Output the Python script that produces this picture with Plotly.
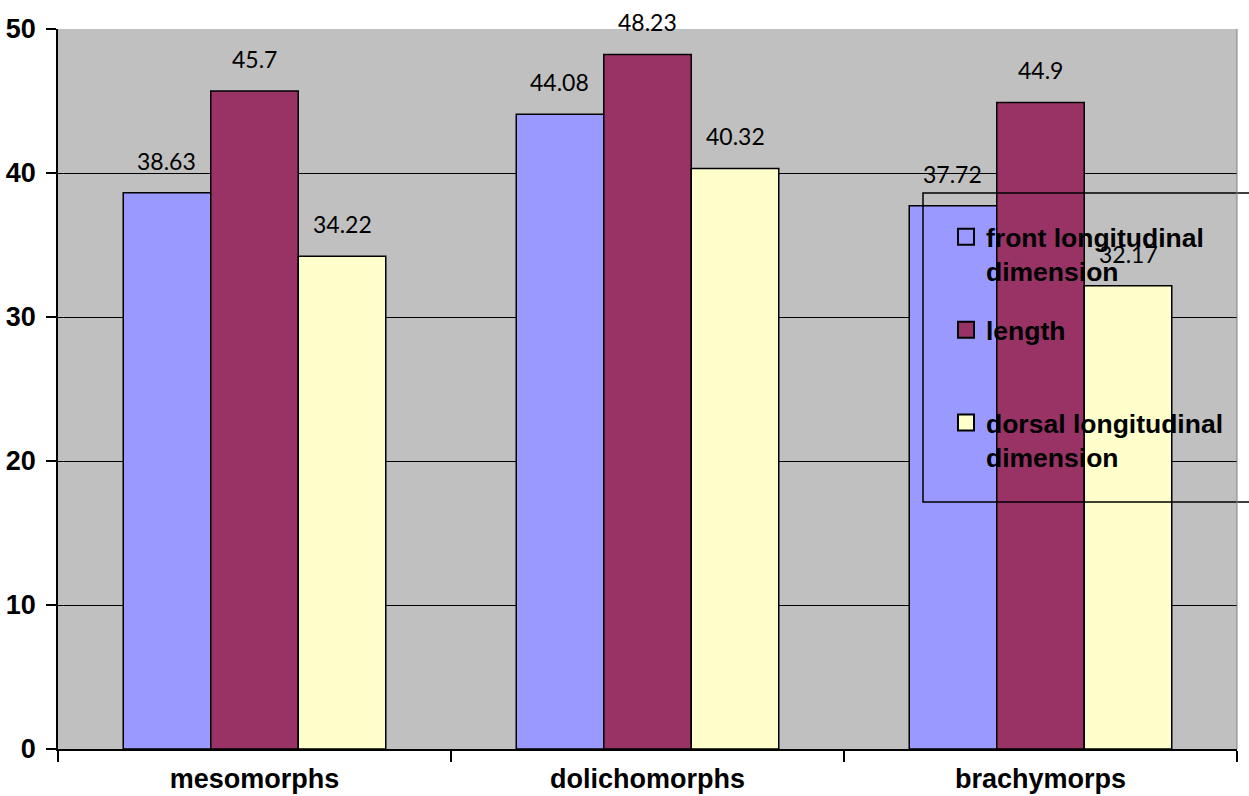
import plotly.graph_objects as go

categories = ["mesomorphs", "dolichomorphs", "brachymorps"]
series_names = ["front longitudinal<br>dimension", "length<br> ", "dorsal longitudinal<br>dimension"]
front_vals = [38.63, 44.08, 37.72]
length_vals = [45.7, 48.23, 44.9]
dorsal_vals = [34.22, 40.32, 32.17]
colors = ["#9999ff", "#993366", "#ffffcc"]
y_ticks = [0, 10, 20, 30, 40, 50]

series = [front_vals, length_vals, dorsal_vals]

W, H = 1249, 796
ML, MR, MT, MB = 58, 12, 29, 47
BARGAP = 0.332
plot_w = W - ML - MR
plot_h = H - MT - MB
bar_px = plot_w / len(categories) * (1 - BARGAP) / len(series)

fig = go.Figure()
for name, vals, col in zip(series_names, series, colors):
    fig.add_trace(go.Bar(
        x=categories, y=vals, name=name,
        marker=dict(color=col, line=dict(color="black", width=1.5)),
        showlegend=False,
    ))
    # legend proxy
    fig.add_trace(go.Scatter(
        x=[None], y=[None], mode="markers", name=name,
        marker=dict(symbol="square", size=16, color=col,
                    line=dict(color="black", width=2)),
        legendgroup=name,
    ))

annotations = []
for j, vals in enumerate(series):
    for cat, v in zip(categories, vals):
        annotations.append(dict(
            x=cat, y=v, xref="x", yref="y", text=f"{v:g}",
            showarrow=False, xshift=(j - 1) * bar_px, yshift=32,
            yanchor="middle",
            font=dict(family="Lato", size=23, color="black"),
        ))

fig.update_layout(
    width=W, height=H,
    margin=dict(l=ML, r=MR, t=MT, b=MB, autoexpand=False),
    paper_bgcolor="white",
    plot_bgcolor="#c0c0c0",
    barmode="group", bargap=BARGAP, bargroupgap=0,
    annotations=annotations,
    legend=dict(
        x=(946 - ML) / plot_w, y=(749 - 213) / plot_h, xanchor="left", yanchor="top",
        bgcolor="rgba(0,0,0,0)", borderwidth=0,
        font=dict(family="Liberation Sans", size=26.5, color="black", weight="bold"),
        valign="top", tracegroupgap=21, traceorder="grouped",
        itemsizing="trace",
    ),
    shapes=[
        dict(type="rect", xref="paper", yref="paper",
             x0=(923 - ML) / plot_w, x1=1.2, y0=(749 - 502) / plot_h, y1=(749 - 193) / plot_h,
             line=dict(color="black", width=1.5), fillcolor="rgba(0,0,0,0)", layer="above"),
        dict(type="line", xref="paper", yref="paper", x0=1, x1=1, y0=0, y1=1,
             line=dict(color="#808080", width=1), layer="above"),
    ],
    font=dict(family="Liberation Sans", color="black"),
)
fig.update_xaxes(
    type="category", tickson="boundaries", ticks="outside", ticklen=11,
    tickcolor="black", tickwidth=1.5, showline=True, linecolor="black", linewidth=1.5,
    showgrid=False, automargin=False,
    tickfont=dict(family="Liberation Sans", size=27, color="black", weight="bold"),
    ticklabelstandoff=5,
)
fig.update_yaxes(
    range=[0, 50], tickvals=y_ticks, ticks="outside", ticklen=10,
    tickcolor="black", tickwidth=1.5, showline=True, linecolor="black", linewidth=1.5,
    showgrid=True, gridcolor="black", gridwidth=1, zeroline=False, automargin=False,
    tickfont=dict(family="Liberation Sans", size=27, color="black", weight="bold"),
    ticklabelstandoff=5,
)

fig.write_html(
    "out.html",
    config={"displayModeBar": False},
    post_script="document.body.style.margin='0';document.body.style.overflow='hidden';",
)
